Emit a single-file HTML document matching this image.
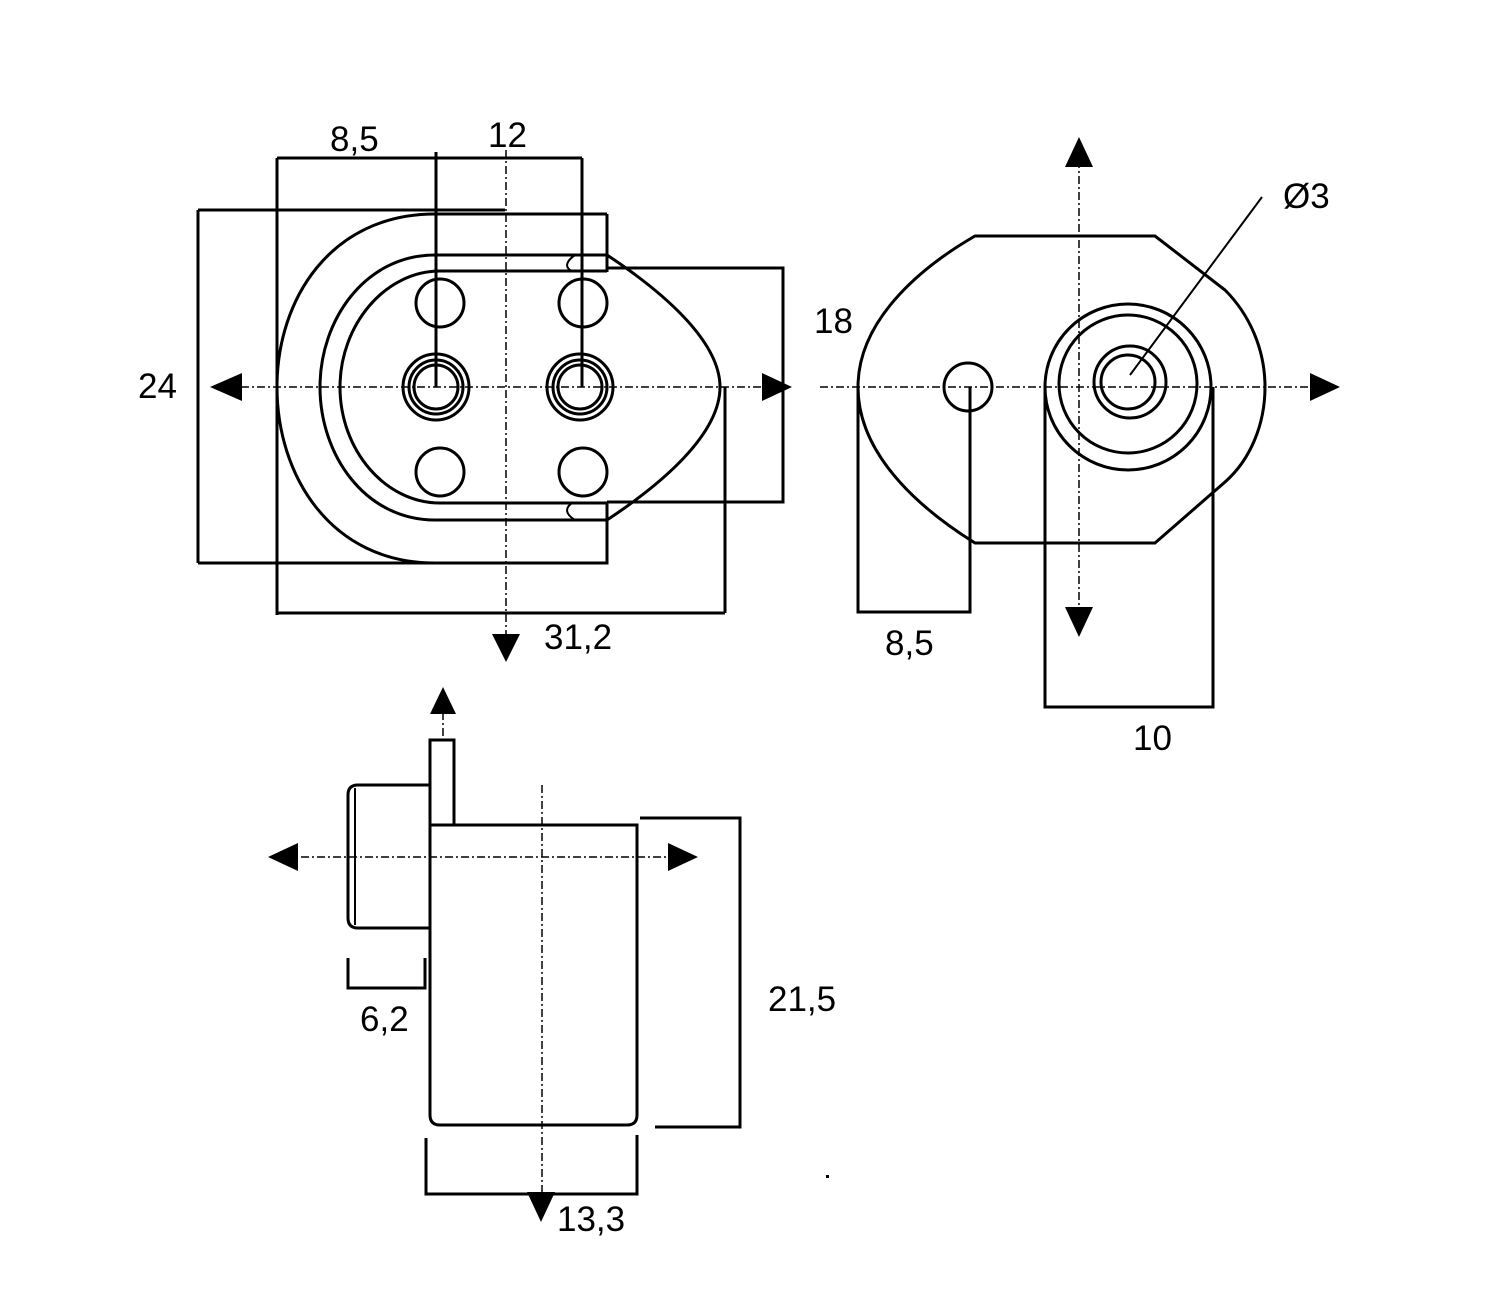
<!DOCTYPE html>
<html><head><meta charset="utf-8"><style>
html,body{margin:0;padding:0;background:#fff}
svg{display:block}
text{font-family:"Liberation Sans",Arial,sans-serif;font-size:35px;fill:#000}
</style></head><body>
<svg width="1512" height="1305" viewBox="0 0 1512 1305" xmlns="http://www.w3.org/2000/svg">
<g fill="none" stroke="#000" stroke-width="3">
<!-- VIEW 1 -->
<path d="M607,214 L435,214 C330,214 277,300 277,387 C277,475 330,563 435,563 L607,563 L607,503"/>
<path d="M607,255 L435,255 C365,255 320,320 320,387 C320,455 365,520 435,520 L607,520"/>
<path d="M607,271 L440,271 C385,271 340,325 340,387 C340,450 385,503 440,503 L607,503"/>
<path d="M607,214 L607,272 M607,503 L607,520"/>
<path d="M607,255 C660,290 720,340 720,387 C720,435 660,485 607,520"/>
<path d="M575,255 C565,262 565,268 572,271 M575,520 C565,514 565,508 572,503" stroke-width="2"/>
<circle cx="440" cy="303" r="24"/><circle cx="583" cy="303" r="24"/>
<circle cx="440" cy="472" r="24"/><circle cx="583" cy="472" r="24"/>
<circle cx="436" cy="387" r="33"/><circle cx="436" cy="387" r="27"/><circle cx="436" cy="387" r="22"/>
<circle cx="580" cy="387" r="33"/><circle cx="580" cy="387" r="27"/><circle cx="580" cy="387" r="22"/>
<path d="M277,158 L582,158 M277,158 L277,615 M436,152 L436,387 M582,158 L582,387"/>
<path d="M198,210 L505,210 M198,210 L198,563 M198,563 L505,563"/>
<path d="M607,268 L783,268 L783,502 L607,502"/>
<path d="M277,613 L725,613 M725,387 L725,613"/>
<!-- VIEW 2 -->
<path d="M975,236 L1155,236 L1225,290 C1250,315 1265,350 1265,387 C1265,425 1250,460 1225,482 L1155,543 L975,543 C930,515 858,460 858,387 C858,315 930,262 975,236 Z"/>
<circle cx="968" cy="387" r="24"/>
<circle cx="1128" cy="387" r="83"/><circle cx="1128" cy="384" r="69"/>
<circle cx="1130" cy="382" r="36"/><circle cx="1128" cy="382" r="27"/>
<path d="M1130,375 L1262,197" stroke-width="2"/>
<path d="M858,387 L858,612 L970,612 L970,387"/>
<path d="M1045,387 L1045,707 L1213,707 L1213,387"/>
<!-- VIEW 3 -->
<path d="M430,825 L430,740 L454,740 L454,825"/>
<path d="M430,825 L637,825 L637,1115 Q637,1125 627,1125 L440,1125 Q430,1125 430,1115 Z"/>
<path d="M430,785 L358,785 Q348,785 348,795 L348,918 Q348,928 358,928 L430,928"/>
<path d="M355,788 L355,925" stroke-width="2"/>
<path d="M640,818 L740,818 L740,1127 L655,1127"/>
<path d="M348,958 L348,988 L425,988 L425,958"/>
<path d="M426,1138 L426,1194 L637,1194 L637,1135"/>
</g>
<g fill="none" stroke="#000" stroke-width="1.5" stroke-dasharray="8,3,2,3">
<path d="M225,387 L775,387"/>
<path d="M506,150 L506,640"/>
<path d="M820,387 L1320,387"/>
<path d="M1079,160 L1079,615"/>
<path d="M443,712 L443,740"/>
<path d="M285,857 L680,857"/>
<path d="M542,785 L542,1200"/>
</g>
<g fill="#000">
<polygon points="210,387 242,373 242,401"/>
<polygon points="792,387 762,373 762,401"/>
<polygon points="506,662 492,634 520,634"/>
<polygon points="1340,387 1310,373 1310,401"/>
<polygon points="1079,137 1065,167 1093,167"/>
<polygon points="1079,637 1065,607 1093,607"/>
<polygon points="443,687 430,714 456,714"/>
<polygon points="268,857 298,843 298,871"/>
<polygon points="698,857 668,843 668,871"/>
<polygon points="541,1222 527,1192 555,1192"/>
<rect x="826" y="1175" width="3" height="3"/>
</g>
<text x="330" y="151">8,5</text>
<text x="488" y="147">12</text>
<text x="138" y="398">24</text>
<text x="544" y="649">31,2</text>
<text x="814" y="333">18</text>
<text x="1283" y="208">Ø3</text>
<text x="885" y="655">8,5</text>
<text x="1133" y="750">10</text>
<text x="768" y="1011">21,5</text>
<text x="360" y="1031">6,2</text>
<text x="557" y="1231">13,3</text>
</svg>
</body></html>
